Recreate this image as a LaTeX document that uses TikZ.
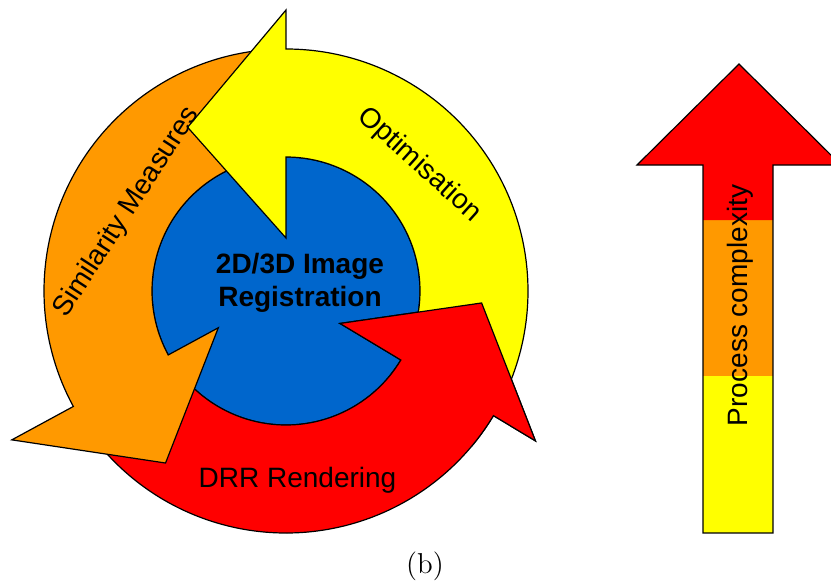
\documentclass[tikz,border=0pt]{standalone}
\usepackage{fontspec}
\setsansfont{Liberation Sans}
\definecolor{cycyellow}{RGB}{255,255,0}
\definecolor{cycorange}{RGB}{255,153,0}
\definecolor{cycred}{RGB}{255,0,0}
\definecolor{cycblue}{RGB}{0,102,204}
% tail angle, head angle, inner barb, outer barb, tip angle, tip radius
\newcommand{\ringarrow}[6]{(#1:242) arc[start angle=#1, end angle=#2, radius=242] -- (#2:#4) -- (#5:#6) -- (#2:#3) -- (#2:134) arc[start angle=#2, end angle=#1, radius=134] -- cycle}

\begin{document}
\begin{tikzpicture}[x=0.5pt, y=0.5pt,
  outline/.style={draw=black, line width=0.6pt, line join=miter},
  ringtext/.style={font=\sffamily\fontsize{14}{16}\selectfont}]
\useasboundingbox (-286,-294) rectangle (545,291);

\draw[outline, fill=cycblue] (0,0) circle[radius=134];

\draw[outline, fill=cycred] \ringarrow{218}{329}{63}{291}{356.5}{196};
\draw[outline, fill=cycorange] \ringarrow{94}{208.5}{77}{312}{235}{210};
\draw[outline, fill=cycyellow] \ringarrow{-25}{90}{53}{281}{121}{191};
\begin{scope}
\clip (0,0) -- (-40:330) arc[start angle=-40, end angle=5, radius=330] -- cycle;
\draw[outline, fill=cycred] \ringarrow{218}{329}{63}{291}{356.5}{196};
\end{scope}

\node (optim) [ringtext, rotate=-42] at (133.5,126) {Optimisation};
\node (simil) [ringtext, rotate=57] at (-159,79) {Similarity Measures};
\node (drr) [ringtext, anchor=base] at (11.5,-196) {DRR Rendering};
\node (reg) [font=\sffamily\bfseries\fontsize{14}{16.5}\selectfont, align=center] at (14,8) {2D/3D Image\\Registration};

\fill[cycyellow] (417,-242) rectangle (487,-85);
\fill[cycorange] (417,-85) rectangle (487,71);
\fill[cycred] (417,71) -- (417,126) -- (351,126) -- (453,227) -- (555,126) -- (487,126) -- (487,71) -- cycle;
\draw[outline] (417,-242) -- (417,126) -- (351,126) -- (453,227) -- (555,126) -- (487,126) -- (487,-242) -- cycle;
\node (proc) [ringtext, rotate=90, anchor=base] at (461,-14.5) {Process complexity};

\node (caption) [font=\Large, anchor=base] at (139,-282) {(b)};
\end{tikzpicture}
\end{document}
